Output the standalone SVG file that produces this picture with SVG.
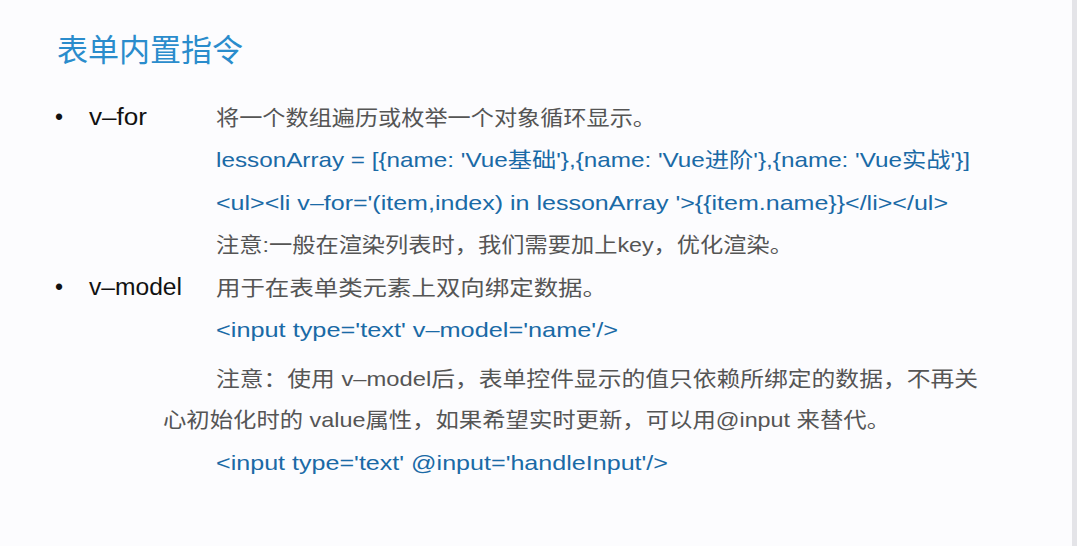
<svg xmlns="http://www.w3.org/2000/svg" width="1077" height="546" viewBox="0 0 1077 546">
<style>
text{font-family:"Liberation Sans","Noto Sans CJK SC",sans-serif;font-size:21px}
.t{fill:#2a8ccc;font-size:31px}
.k{fill:#111;font-size:23px}
.g{fill:#555}
.c{fill:#1a6aa6}
</style>
<rect width="1077" height="546" fill="#fcfcfe"/>
<rect x="1072" y="0" width="5" height="546" fill="#e4e4e8"/>
<text class="t" x="57" y="61" textLength="186" lengthAdjust="spacingAndGlyphs">表单内置指令</text>
<text class="k" x="55" y="125">•</text>
<text class="k" x="89" y="125" textLength="58" lengthAdjust="spacingAndGlyphs">v–for</text>
<text class="g" x="216" y="125" textLength="440" lengthAdjust="spacingAndGlyphs">将一个数组遍历或枚举一个对象循环显示。</text>
<text class="c" x="216" y="167" textLength="754" lengthAdjust="spacingAndGlyphs">lessonArray = [{name: 'Vue基础'},{name: 'Vue进阶'},{name: 'Vue实战'}]</text>
<text class="c" x="216" y="210" textLength="732" lengthAdjust="spacingAndGlyphs">&lt;ul&gt;&lt;li v–for='(item,index) in lessonArray '&gt;{{item.name}}&lt;/li&gt;&lt;/ul&gt;</text>
<text class="g" x="216" y="252" textLength="577" lengthAdjust="spacingAndGlyphs">注意:一般在渲染列表时，我们需要加上key，优化渲染。</text>
<text class="k" x="55" y="295">•</text>
<text class="k" x="89" y="295" textLength="93" lengthAdjust="spacingAndGlyphs">v–model</text>
<text class="g" x="216" y="295" textLength="391" lengthAdjust="spacingAndGlyphs">用于在表单类元素上双向绑定数据。</text>
<text class="c" x="216" y="337" textLength="402" lengthAdjust="spacingAndGlyphs">&lt;input type='text' v–model='name'/&gt;</text>
<text class="g" x="216" y="386" textLength="762" lengthAdjust="spacingAndGlyphs">注意：使用 v–model后，表单控件显示的值只依赖所绑定的数据，不再关</text>
<text class="g" x="163" y="427" textLength="727" lengthAdjust="spacingAndGlyphs">心初始化时的 value属性，如果希望实时更新，可以用@input 来替代。</text>
<text class="c" x="216" y="470" textLength="452" lengthAdjust="spacingAndGlyphs">&lt;input type='text' @input='handleInput'/&gt;</text>
</svg>
